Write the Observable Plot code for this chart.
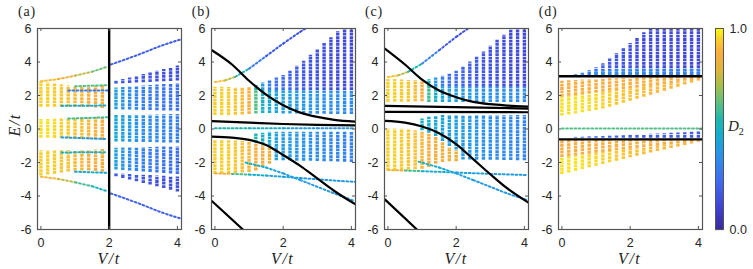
<!DOCTYPE html>
<html><head><meta charset="utf-8">
<script src="https://cdn.jsdelivr.net/npm/d3@7"></script>
<script src="https://cdn.jsdelivr.net/npm/@observablehq/plot@0.6"></script>
<style>
body{margin:0;background:#fff}
#wrap{position:relative;width:753px;height:269px;overflow:hidden;background:#fff}
.p{position:absolute;top:0}
.lab{position:absolute;font-family:"Liberation Serif","DejaVu Serif",serif;color:#222;white-space:nowrap;line-height:1}
.math{font-style:italic;font-size:16px;letter-spacing:1.5px}
</style></head><body><div id="wrap"></div><script>
// ---------- axes / ticks ----------
const xTicks = [0, 2, 4];
const yTicks = [-6, -4, -2, 0, 2, 4, 6];
const cbTicks = [0, 1];
const panelNames = ["(a)", "(b)", "(c)", "(d)"];

// ---------- colormap (parula-like) ----------
const stops = [0, .12, .25, .37, .47, .55, .63, .72, .80, .88, .95, 1];
const stopColors = ["#3b2a9c","#4145d8","#3f6cf2","#2a92ec","#14aed0","#1fb8b0","#5cc080","#a8bf48","#e0b43c","#fbad3e","#f8d02a","#f9fb14"];

// ---------- bands: [V, Elow, Ehigh, D2] ----------
// panel (a)
const aUpL = [[0,1.3,2.8,.95],[0.2,1.3,2.75,.95],[0.4,1.3,2.7,.94],[0.6,1.3,2.63,.93],[0.8,1.3,2.57,.92],[1.0,1.3,2.52,.91],[1.2,1.3,2.5,.9],[1.4,1.28,2.5,.88],[1.6,1.25,2.53,.87],[1.8,1.22,2.58,.85]];
const aMidL = [[0,-0.55,0.57,.97],[0.2,-0.55,0.57,.97],[0.4,-0.56,0.58,.96],[0.6,-0.57,0.6,.95],[0.8,-0.58,0.6,.94],[1.0,-0.6,0.62,.93],[1.2,-0.62,0.64,.92],[1.4,-0.64,0.66,.9],[1.6,-0.66,0.68,.89],[1.8,-0.68,0.7,.88]];
const aLoL = [[0,-2.8,-1.3,.95],[0.2,-2.75,-1.3,.95],[0.4,-2.7,-1.3,.94],[0.6,-2.63,-1.3,.93],[0.8,-2.57,-1.3,.92],[1.0,-2.52,-1.3,.91],[1.2,-2.5,-1.3,.9],[1.4,-2.5,-1.28,.88],[1.6,-2.53,-1.25,.87],[1.8,-2.58,-1.22,.85]];
const aUpR = [[2.2,1.15,2.45,.42],[2.4,1.14,2.48,.38],[2.6,1.13,2.5,.35],[2.8,1.12,2.53,.33],[3.0,1.11,2.56,.31],[3.2,1.1,2.59,.3],[3.4,1.09,2.62,.29],[3.6,1.08,2.65,.28],[3.8,1.07,2.68,.27],[4.0,1.06,2.72,.26]];
const aUpW = [[2.2,2.68,2.85,.2],[2.4,2.7,2.95,.19],[2.6,2.72,3.05,.18],[2.8,2.74,3.15,.18],[3.0,2.76,3.25,.17],[3.2,2.78,3.35,.17],[3.4,2.8,3.45,.16],[3.6,2.82,3.55,.16],[3.8,2.84,3.65,.16],[4.0,2.86,3.76,.16]];
const aMidR = [[2.2,-0.78,0.8,.45],[2.4,-0.78,0.8,.42],[2.6,-0.79,0.81,.4],[2.8,-0.8,0.82,.38],[3.0,-0.8,0.82,.36],[3.2,-0.81,0.83,.35],[3.4,-0.82,0.84,.34],[3.6,-0.83,0.85,.33],[3.8,-0.84,0.86,.32],[4.0,-0.85,0.87,.31]];
const aLoR = [[2.2,-2.45,-1.15,.42],[2.4,-2.48,-1.14,.38],[2.6,-2.5,-1.13,.35],[2.8,-2.53,-1.12,.33],[3.0,-2.56,-1.11,.31],[3.2,-2.59,-1.1,.3],[3.4,-2.62,-1.09,.29],[3.6,-2.65,-1.08,.28],[3.8,-2.68,-1.07,.27],[4.0,-2.72,-1.06,.26]];
const aLoW = [[2.2,-2.85,-2.68,.2],[2.4,-2.95,-2.7,.19],[2.6,-3.05,-2.72,.18],[2.8,-3.15,-2.74,.18],[3.0,-3.25,-2.76,.17],[3.2,-3.35,-2.78,.17],[3.4,-3.45,-2.8,.16],[3.6,-3.55,-2.82,.16],[3.8,-3.65,-2.84,.16],[4.0,-3.76,-2.86,.16]];
// panel (b)
const bUpY = [[0,0.8,2.5,.95],[0.2,0.8,2.5,.95],[0.4,0.8,2.48,.94],[0.6,0.82,2.47,.93],[0.8,0.84,2.46,.91],[1.0,0.87,2.46,.88]];
const bFanLo = [[1.2,0.9,2.3,.62],[1.4,0.92,2.3,.5],[1.6,0.92,2.3,.45],[1.8,0.92,2.3,.43],[2.0,0.9,2.3,.42],[2.2,0.9,2.3,.41],[2.4,0.9,2.3,.4],[2.6,0.9,2.3,.39],[2.8,0.88,2.3,.38],[3.0,0.88,2.3,.37],[3.2,0.88,2.3,.36],[3.4,0.87,2.3,.36],[3.6,0.87,2.3,.35],[3.8,0.86,2.3,.35],[4.0,0.86,2.3,.35]];
const bFanHi = [[1.2,2.3,2.6,.55],[1.4,2.3,2.75,.4],[1.6,2.3,2.9,.3],[1.8,2.3,3.05,.26],[2.0,2.3,3.2,.24],[2.2,2.3,3.45,.22],[2.4,2.3,3.75,.2],[2.6,2.3,4.05,.19],[2.8,2.3,4.4,.18],[3.0,2.3,4.75,.17],[3.2,2.3,5.1,.16],[3.4,2.3,5.45,.15],[3.6,2.3,5.8,.14],[3.8,2.3,6.0,.14],[4.0,2.3,6.0,.13]];
const bLoY = [[0,-2.7,-0.7,.95],[0.2,-2.7,-0.7,.95],[0.4,-2.68,-0.7,.94],[0.6,-2.66,-0.72,.93],[0.8,-2.63,-0.75,.92],[1.0,-2.6,-0.8,.9],[1.2,-2.5,-0.9,.88],[1.4,-2.3,-1.0,.86],[1.6,-2.1,-1.1,.84]];
const bLoFan = [[1.2,-0.85,-0.3,.55],[1.4,-0.95,-0.25,.48],[1.6,-1.05,-0.2,.45],[1.8,-1.9,-0.2,.42],[2.0,-1.9,-0.2,.4],[2.2,-1.9,-0.2,.39],[2.4,-1.92,-0.2,.38],[2.6,-1.92,-0.2,.37],[2.8,-1.93,-0.2,.36],[3.0,-1.94,-0.2,.35],[3.2,-1.95,-0.2,.34],[3.4,-1.96,-0.2,.33],[3.6,-1.97,-0.2,.33],[3.8,-1.98,-0.2,.32],[4.0,-2.0,-0.2,.32]];
// panel (c)
const cUpY = [[0,1.6,2.95,.95],[0.2,1.6,2.95,.95],[0.4,1.6,2.93,.94],[0.6,1.6,2.9,.93],[0.8,1.62,2.88,.91],[1.0,1.63,2.86,.88]];
const cFanLo = [[1.2,1.58,2.5,.6],[1.4,1.58,2.5,.5],[1.6,1.58,2.5,.45],[1.8,1.58,2.5,.43],[2.0,1.58,2.5,.42],[2.2,1.58,2.5,.41],[2.4,1.58,2.5,.4],[2.6,1.58,2.5,.39],[2.8,1.58,2.5,.38],[3.0,1.58,2.5,.37],[3.2,1.58,2.5,.36],[3.4,1.58,2.5,.36],[3.6,1.58,2.5,.35],[3.8,1.58,2.5,.35],[4.0,1.58,2.5,.35]];
const cFanHi = [[1.2,2.5,2.95,.5],[1.4,2.5,3.05,.38],[1.6,2.5,3.15,.3],[1.8,2.5,3.3,.26],[2.0,2.5,3.45,.24],[2.2,2.5,3.7,.22],[2.4,2.5,4.0,.2],[2.6,2.5,4.3,.19],[2.8,2.5,4.6,.18],[3.0,2.5,4.95,.17],[3.2,2.5,5.3,.16],[3.4,2.5,5.6,.15],[3.6,2.5,5.9,.14],[3.8,2.5,6.0,.14],[4.0,2.5,6.0,.13]];
const cLoY = [[0,-2.5,0.0,.95],[0.2,-2.5,0.0,.95],[0.4,-2.48,-0.02,.94],[0.6,-2.46,-0.05,.93],[0.8,-2.43,-0.1,.92],[1.0,-2.4,-0.15,.9],[1.2,-2.3,-0.3,.88],[1.4,-2.1,-0.5,.86],[1.6,-2.0,-0.8,.85],[1.8,-1.95,-1.1,.84],[2.0,-1.95,-1.3,.82]];
const cLoFan = [[1.0,-0.1,0.6,.5],[1.2,-0.25,0.7,.47],[1.4,-0.45,0.75,.45],[1.6,-0.75,0.8,.43],[1.8,-1.05,0.8,.42],[2.0,-1.25,0.8,.41],[2.2,-1.85,0.8,.4],[2.4,-1.85,0.8,.39],[2.6,-1.86,0.8,.38],[2.8,-1.86,0.8,.37],[3.0,-1.87,0.8,.36],[3.2,-1.87,0.8,.35],[3.4,-1.88,0.8,.34],[3.6,-1.88,0.8,.34],[3.8,-1.89,0.8,.33],[4.0,-1.9,0.8,.33]];
// panel (d)
const dUpLo = [[0,0.78,1.9,.97],[0.2,0.84,1.95,.97],[0.4,0.9,2.0,.97],[0.6,0.97,2.05,.97],[0.8,1.04,2.1,.96],[1.0,1.1,2.15,.96],[1.2,1.2,2.2,.95],[1.4,1.3,2.25,.95],[1.6,1.42,2.3,.93],[1.8,1.54,2.35,.93],[2.0,1.66,2.4,.92],[2.2,1.78,2.45,.92],[2.4,1.9,2.5,.91],[2.6,2.02,2.55,.9],[2.8,2.14,2.6,.9],[3.0,2.26,2.65,.9],[3.2,2.38,2.7,.9],[3.4,2.5,2.8,.9],[3.6,2.62,2.85,.9],[3.8,2.74,2.9,.9],[4.0,2.86,2.95,.9]];
const dUpHi = [[0,1.9,2.85,.88],[0.2,1.95,2.88,.88],[0.4,2.0,2.9,.88],[0.6,2.05,2.92,.88],[0.8,2.1,2.94,.88],[1.0,2.15,2.96,.88],[1.2,2.2,2.98,.88],[1.4,2.25,3.0,.88],[1.6,2.3,3.0,.88],[1.8,2.35,3.02,.88],[2.0,2.4,3.03,.88],[2.2,2.45,3.04,.88],[2.4,2.5,3.05,.88],[2.6,2.55,3.06,.88],[2.8,2.6,3.07,.88],[3.0,2.65,3.08,.88],[3.2,2.7,3.08,.88],[3.4,2.8,3.09,.88],[3.6,2.85,3.1,.88],[3.8,2.9,3.1,.88],[4.0,2.95,3.1,.88]];
const dWedge = [[0.4,3.2,3.25,.4],[0.6,3.2,3.33,.35],[0.8,3.2,3.48,.3],[1.0,3.2,3.65,.26],[1.2,3.2,3.9,.22],[1.4,3.2,4.2,.2],[1.6,3.2,4.5,.18],[1.8,3.2,4.8,.17],[2.0,3.2,5.1,.16],[2.2,3.2,5.4,.15],[2.4,3.2,5.75,.14],[2.6,3.2,6.0,.14],[2.8,3.2,6.0,.14],[3.0,3.2,6.0,.14],[3.2,3.2,6.0,.13],[3.4,3.2,6.0,.13],[3.6,3.2,6.0,.13],[3.8,3.2,6.0,.13],[4.0,3.2,6.0,.13]];
const dWedgeLow = [[1.0,3.2,3.45,.38],[1.2,3.2,3.5,.38],[1.4,3.2,3.5,.37],[1.6,3.2,3.55,.36],[1.8,3.2,3.55,.36],[2.0,3.2,3.6,.35],[2.2,3.2,3.6,.35],[2.4,3.2,3.6,.34],[2.6,3.2,3.6,.34],[2.8,3.2,3.6,.33],[3.0,3.2,3.6,.33],[3.2,3.2,3.6,.33],[3.4,3.2,3.6,.33],[3.6,3.2,3.6,.33],[3.8,3.2,3.6,.33],[4.0,3.2,3.6,.33]];
const dLoWedge = [[0.4,-0.55,-0.5,.3],[0.6,-0.55,-0.49,.28],[0.8,-0.55,-0.47,.26],[1.0,-0.55,-0.46,.25],[1.2,-0.55,-0.45,.24],[1.4,-0.55,-0.43,.23],[1.6,-0.55,-0.42,.22],[1.8,-0.55,-0.4,.22],[2.0,-0.55,-0.38,.21],[2.2,-0.55,-0.36,.21],[2.4,-0.55,-0.34,.2],[2.6,-0.55,-0.32,.2],[2.8,-0.55,-0.3,.2],[3.0,-0.55,-0.28,.2],[3.2,-0.55,-0.26,.2],[3.4,-0.55,-0.24,.2],[3.6,-0.55,-0.22,.2],[3.8,-0.55,-0.2,.2],[4.0,-0.55,-0.17,.2]];
const dLoLo = [[0,-2.72,-1.7,.97],[0.2,-2.62,-1.65,.97],[0.4,-2.52,-1.6,.97],[0.6,-2.42,-1.55,.97],[0.8,-2.32,-1.5,.96],[1.0,-2.22,-1.45,.96],[1.2,-2.12,-1.4,.95],[1.4,-2.02,-1.35,.95],[1.6,-1.92,-1.3,.93],[1.8,-1.82,-1.25,.93],[2.0,-1.72,-1.2,.92],[2.2,-1.62,-1.15,.92],[2.4,-1.53,-1.1,.91],[2.6,-1.44,-1.05,.9],[2.8,-1.35,-1.0,.9],[3.0,-1.26,-0.97,.9],[3.2,-1.17,-0.94,.9],[3.4,-1.08,-0.9,.9],[3.6,-0.99,-0.86,.9],[3.8,-0.9,-0.82,.9],[4.0,-0.8,-0.78,.9]];
const dLoHi = [[0,-1.7,-0.68,.88],[0.2,-1.65,-0.68,.88],[0.4,-1.6,-0.68,.88],[0.6,-1.55,-0.68,.88],[0.8,-1.5,-0.68,.88],[1.0,-1.45,-0.68,.88],[1.2,-1.4,-0.68,.88],[1.4,-1.35,-0.68,.88],[1.6,-1.3,-0.68,.88],[1.8,-1.25,-0.68,.88],[2.0,-1.2,-0.68,.88],[2.2,-1.15,-0.68,.88],[2.4,-1.1,-0.68,.88],[2.6,-1.05,-0.68,.88],[2.8,-1.0,-0.68,.88],[3.0,-0.97,-0.68,.88],[3.2,-0.94,-0.68,.88],[3.4,-0.9,-0.68,.88],[3.6,-0.86,-0.68,.88],[3.8,-0.82,-0.68,.88],[4.0,-0.78,-0.68,.88]];

// ---------- isolated levels: [V, E, D2] ----------
const aOutUpL = [[0,2.85,.92],[0.5,2.98,.85],[1.0,3.18,.75],[1.5,3.42,.65],[1.95,3.72,.58]];
const aOutLoL = [[0,-2.85,.9],[0.5,-2.98,.75],[1.0,-3.18,.6],[1.5,-3.42,.5],[1.95,-3.72,.45]];
const aOutUpR = [[2.05,3.85,.2],[2.5,4.17,.2],[3.0,4.55,.2],[3.5,4.95,.2],[4.1,5.35,.2]];
const aOutLoR = [[2.05,-3.85,.22],[2.5,-4.17,.22],[3.0,-4.55,.22],[3.5,-4.95,.22],[4.1,-5.35,.22]];
const aEdge1 = [[0.6,1.38,.45],[1.95,1.4,.4]];
const aEdge2 = [[1.0,2.55,.62],[1.95,2.62,.6]];
const aEdge3 = [[0.8,2.3,.3],[1.95,2.3,.28]];
const aEdge4 = [[0.8,0.62,.6],[1.95,0.7,.6]];
const aEdge5 = [[0.6,-0.5,.4],[1.95,-0.6,.4]];
const aEdge6 = [[0.6,-1.4,.5],[1.95,-1.38,.5]];
const aEdge7 = [[1.0,-2.55,.45],[1.95,-2.62,.45]];
const bOutUp = [[0,2.8,.92],[0.3,2.9,.75],[0.6,3.12,.55],[1.0,3.6,.3],[1.5,4.35,.2],[2.0,5.1,.18],[2.5,5.8,.16],[2.65,6.0,.16]];
const bMidLvl = [[0,0.05,.55],[1,0.05,.5],[2,0.05,.42],[3,0.05,.38],[4.1,0.05,.35]];
const bLineA = [[0,-2.65,.85],[0.5,-2.68,.6],[1,-2.72,.48],[1.5,-2.78,.44],[2,-2.85,.42],[2.5,-2.93,.4],[3,-3.0,.4],[3.5,-3.08,.4],[4.1,-3.15,.4]];
const bLineB = [[0.9,-2.0,.5],[1.5,-2.3,.45],[2,-2.65,.42],[2.5,-3.05,.4],[3,-3.45,.4],[3.5,-3.85,.4],[4.1,-4.3,.4]];
const cOutUp = [[0,3.1,.92],[0.3,3.2,.75],[0.6,3.42,.55],[1.0,3.9,.3],[1.5,4.7,.2],[2.0,5.5,.16],[2.35,6.0,.15]];
const cLineA = [[0,-2.45,.85],[0.5,-2.48,.6],[1,-2.52,.48],[2,-2.6,.42],[3,-2.68,.4],[4.1,-2.75,.4]];
const cLineB = [[0.9,-1.95,.5],[1.5,-2.3,.45],[2,-2.65,.42],[2.5,-3.05,.4],[3,-3.45,.4],[3.5,-3.85,.4],[4.1,-4.25,.4]];
const dMidLvl = [[0,0.03,.62],[4.1,0.03,.62]];

// ---------- black curves: [V, E] ----------
const bBlk1 = [[-0.09,4.7],[0.5,3.85],[1.0,2.88],[1.5,2.05],[2.0,1.42],[2.5,0.98],[3.0,0.72],[3.5,0.55],[4.12,0.44]];
const bBlk2 = [[-0.09,0.47],[1,0.38],[2,0.3],[3,0.25],[4.12,0.22]];
const bBlk3 = [[-0.09,-0.45],[0.5,-0.52],[1.0,-0.65],[1.5,-0.95],[2.0,-1.55],[2.5,-2.2],[3.0,-2.95],[3.5,-3.7],[4.12,-4.5]];
const bBlk4 = [[-0.09,-4.3],[0.82,-6]];
const cBlk1 = [[-0.09,4.8],[0.5,3.85],[1.0,2.95],[1.5,2.3],[2.0,1.9],[2.5,1.62],[3.0,1.48],[3.5,1.4],[4.12,1.33]];
const cBlk2 = [[-0.09,1.38],[4.12,1.22]];
const cBlk3 = [[-0.09,1.02],[4.12,1.0]];
const cBlk4 = [[-0.09,0.48],[0.5,0.38],[1.0,0.15],[1.5,-0.25],[2.0,-0.9],[2.5,-1.8],[3.0,-2.7],[3.5,-3.55],[4.12,-4.4]];
const cBlk5 = [[-0.09,-4.2],[0.85,-6]];
const aBlkV = [2];
const dBlkH = [3.15, -0.62];

// ---------- layout ----------
const XD = [-0.1, 4.12], YD = [-6, 6];
const frameLefts = [37, 210.7, 384, 557.7];
const FW = 144, ML = 37, MT = 28, MB = 40, H = 269;
const colorOpt = {type: "linear", domain: stops, range: stopColors, clamp: true};
const axisColor = "#555";

const panels = [
  {bands: [aUpL, aMidL, aLoL, aUpR, aUpW, aMidR, aLoR, aLoW],
   levels: [aOutUpL, aOutLoL, aOutUpR, aOutLoR, aEdge1, aEdge2, aEdge3, aEdge4, aEdge5, aEdge6, aEdge7],
   curves: [], vx: aBlkV, hy: []},
  {bands: [bUpY, bFanLo, bFanHi, bLoY, bLoFan],
   levels: [bOutUp, bMidLvl, bLineA, bLineB],
   curves: [bBlk1, bBlk2, bBlk3, bBlk4], vx: [], hy: []},
  {bands: [cUpY, cFanLo, cFanHi, cLoY, cLoFan],
   levels: [cOutUp, cLineA, cLineB],
   curves: [cBlk1, cBlk2, cBlk3, cBlk4, cBlk5], vx: [], hy: []},
  {bands: [dUpLo, dUpHi, dWedge, dWedgeLow, dLoWedge, dLoLo, dLoHi],
   levels: [dMidLvl],
   curves: [], vx: [], hy: dBlkH}
];

const wrap = document.getElementById("wrap");
const fontStyle = {background: "transparent", fontFamily: "'Liberation Sans', Arial, sans-serif", fontSize: "12.5px", color: "#262626", overflow: "visible"};

panels.forEach((p, i) => {
  const marks = [];
  p.bands.forEach(b => marks.push(Plot.ruleX(b, {x: d => d[0], y1: d => d[1], y2: d => d[2], stroke: d => d[3], strokeWidth: 3.4, strokeDasharray: "2.8,0.6"})));
  p.levels.forEach(l => marks.push(Plot.line(l, {x: d => d[0], y: d => d[1], stroke: d => d[2], z: null, strokeWidth: 2, strokeDasharray: "1.8,2.4", curve: "monotone-x", clip: true})));
  p.curves.forEach(c => marks.push(Plot.line(c, {x: d => d[0], y: d => d[1], stroke: "black", strokeWidth: 2.2, curve: "monotone-x", clip: true})));
  if (p.vx.length) marks.push(Plot.ruleX(p.vx, {stroke: "black", strokeWidth: 2.4}));
  if (p.hy.length) marks.push(Plot.ruleY(p.hy, {stroke: "black", strokeWidth: 2.4}));
  marks.push(Plot.frame({stroke: axisColor, strokeWidth: 1.2}));
  marks.push(Plot.ruleY(yTicks, {x1: XD[0], x2: XD[0] + 0.09, stroke: axisColor}));
  marks.push(Plot.ruleY(yTicks, {x1: XD[1] - 0.09, x2: XD[1], stroke: axisColor}));
  marks.push(Plot.ruleX(xTicks, {y1: YD[0], y2: YD[0] + 0.18, stroke: axisColor}));
  marks.push(Plot.ruleX(xTicks, {y1: YD[1] - 0.18, y2: YD[1], stroke: axisColor}));
  marks.push(Plot.axisX({ticks: xTicks, tickSize: 0, tickPadding: 9, label: null, tickFormat: d => String(d)}));
  marks.push(Plot.axisY({ticks: yTicks, tickSize: 0, tickPadding: 6, label: null, tickFormat: d => String(d)}));
  const svg = Plot.plot({
    width: ML + FW + 2, height: H, marginLeft: ML, marginRight: 2, marginTop: MT, marginBottom: MB,
    x: {domain: XD}, y: {domain: YD}, color: colorOpt, style: fontStyle, marks
  });
  svg.classList.add("p");
  svg.style.left = (frameLefts[i] - ML) + "px";
  wrap.appendChild(svg);

  const lab = document.createElement("div");
  lab.className = "lab"; lab.style.fontSize = "14px"; lab.style.letterSpacing = "0.8px";
  lab.style.left = (frameLefts[i] - 19) + "px"; lab.style.top = "5px";
  lab.textContent = panelNames[i];
  wrap.appendChild(lab);

  const vl = document.createElement("div");
  vl.className = "lab math";
  vl.style.left = (frameLefts[i] + 72) + "px"; vl.style.top = "251px"; vl.style.transform = "translateX(-50%)";
  vl.textContent = "V/t";
  wrap.appendChild(vl);
});

// y label
const el = document.createElement("div");
el.className = "lab math";
el.style.left = "15px"; el.style.top = "125px"; el.style.transform = "translate(-50%,-50%) rotate(-90deg)";
el.textContent = "E/t";
wrap.appendChild(el);

// colorbar
const cbVals = d3.range(0, 1.0001, 0.0025);
const cb = Plot.plot({
  width: 60, height: H, marginLeft: 7, marginRight: 45, marginTop: MT, marginBottom: MB,
  x: {domain: [0, 1], axis: null}, y: {domain: [0, 1]}, color: colorOpt, style: fontStyle,
  marks: [
    Plot.ruleY(cbVals, {y: d => d, stroke: d => d, strokeWidth: 1.2}),
    Plot.frame({stroke: axisColor, strokeWidth: 1}),
    Plot.axisY({anchor: "right", ticks: cbTicks, tickSize: 0, tickPadding: 6, label: null, tickFormat: d3.format(".1f")})
  ]
});
cb.classList.add("p");
cb.style.left = "708px";
wrap.appendChild(cb);

const d2 = document.createElement("div");
d2.className = "lab";
d2.style.left = "728px"; d2.style.top = "119px"; d2.style.fontSize = "15px";
d2.innerHTML = "<i>D</i><sub style='font-size:10px'>2</sub>";
wrap.appendChild(d2);
</script></body></html>
